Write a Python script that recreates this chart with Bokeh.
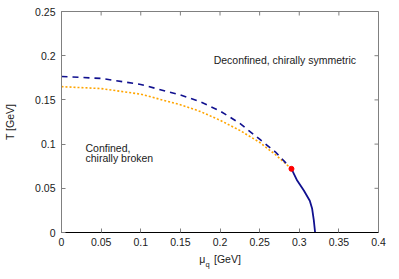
import math
from bokeh.plotting import figure
from bokeh.models import Range1d, FixedTicker, Label, LinearAxis
from bokeh.embed import file_html
from bokeh.resources import INLINE

# --- data ---
mu_deconf = [0.0, 0.05, 0.10, 0.15, 0.175, 0.20, 0.225, 0.25, 0.27, 0.2902]
T_deconf = [0.1765, 0.1743, 0.1675, 0.1555, 0.148, 0.1375, 0.1235, 0.1055, 0.091, 0.072]

mu_chiral = [0.0, 0.05, 0.10, 0.15, 0.175, 0.20, 0.225, 0.25, 0.27, 0.2902]
T_chiral = [0.165, 0.1628, 0.1565, 0.1445, 0.137, 0.127, 0.1155, 0.102, 0.088, 0.072]

mu_first = [0.2902, 0.2974, 0.3058, 0.3133, 0.3163, 0.3184, 0.3200]
T_first = [0.072, 0.0588, 0.0475, 0.036, 0.0268, 0.0136, 0.0]

mu_cep = [0.2902]
T_cep = [0.072]

x_ticks = [0, 0.05, 0.1, 0.15, 0.2, 0.25, 0.3, 0.35, 0.4]
x_tick_labels = ["0", "0.05", "0.1", "0.15", "0.2", "0.25", "0.3", "0.35", "0.4"]
y_ticks = [0, 0.05, 0.1, 0.15, 0.2, 0.25]
y_tick_labels = ["0", "0.05", "0.1", "0.15", "0.2", "0.25"]

X_MIN, X_MAX = 0.0, 0.4
Y_MIN, Y_MAX = 0.0, 0.25

FONT = "Liberation Sans"
FS = "10.5px"
TXT = "#1a1a1a"
GRAY = "#808080"
NBSP = "\u00a0"

p = figure(width=399, height=279, x_range=Range1d(X_MIN, X_MAX), y_range=Range1d(Y_MIN, Y_MAX),
           output_backend="svg", toolbar_location=None,
           min_border_left=61, min_border_right=21, min_border_top=11, min_border_bottom=47)
p.grid.visible = False
p.outline_line_color = GRAY
p.background_fill_color = "white"
p.border_fill_color = "white"

for ax, ticks, labels in ((p.xaxis[0], x_ticks, x_tick_labels), (p.yaxis[0], y_ticks, y_tick_labels)):
    ax.ticker = FixedTicker(ticks=ticks)
    ax.major_label_overrides = {t: l for t, l in zip(ticks, labels)}
    ax.major_tick_in = 4
    ax.major_tick_out = 0
    ax.minor_tick_line_color = None
    ax.major_tick_line_color = GRAY
    ax.major_label_text_font = FONT
    ax.major_label_text_font_size = FS
    ax.major_label_text_color = TXT
    ax.axis_label_text_font = FONT
    ax.axis_label_text_font_size = FS
    ax.axis_label_text_font_style = "normal"
    ax.axis_label_text_color = TXT
p.xaxis[0].axis_line_color = "black"
p.yaxis[0].axis_line_color = GRAY
p.xaxis[0].major_label_standoff = 5
p.yaxis[0].major_label_standoff = 6
p.yaxis[0].axis_label = "T [GeV]"
p.yaxis[0].axis_label_standoff = 16
# x title: "μ" and "[GeV]" on the main axis, the subscript "q" on a bare helper axis below it
p.xaxis[0].axis_label = "μ" + NBSP * 3 + "[GeV]"
p.xaxis[0].axis_label_standoff = 4

sub = LinearAxis(ticker=FixedTicker(ticks=[]), axis_line_color=None,
                 major_tick_line_color=None, minor_tick_line_color=None,
                 major_tick_in=0, major_tick_out=0, minor_tick_in=0, minor_tick_out=0,
                 axis_label="q" + NBSP * 12, axis_label_text_font=FONT,
                 axis_label_text_font_size="7.5px", axis_label_text_font_style="normal",
                 axis_label_text_color=TXT, axis_label_standoff=-8)
p.add_layout(sub, "below")

# mirrored inward ticks on the top and right border (half of each dash is clipped by the frame)
p.scatter(x_ticks, [Y_MAX] * len(x_ticks), marker="dash", angle=math.pi / 2, size=8,
          line_color=GRAY, line_width=1)
p.scatter([X_MAX] * len(y_ticks), y_ticks, marker="dash", size=8,
          line_color=GRAY, line_width=1)

p.line(mu_chiral, T_chiral, line_color="#ffa500", line_width=1.6, line_dash="2 2")
p.line(mu_deconf, T_deconf, line_color="#10108f", line_width=1.6, line_dash="6 5")
p.line(mu_first, T_first, line_color="#10108f", line_width=1.8)
p.scatter(mu_cep, T_cep, size=5, color="#ff0000")

def lab(x, y, text, size=FS, **kw):
    p.add_layout(Label(x=x, y=y, text=text, text_font=FONT, text_font_size=size,
                       text_color=TXT, **kw))

lab(0.192, 0.1957, "Deconfined, chirally symmetric", text_baseline="alphabetic")
lab(0.0303, 0.0958, "Confined,", text_baseline="alphabetic")
lab(0.0303, 0.0843, "chirally broken", text_baseline="alphabetic")

open("out.html", "w").write(file_html(p, INLINE))
